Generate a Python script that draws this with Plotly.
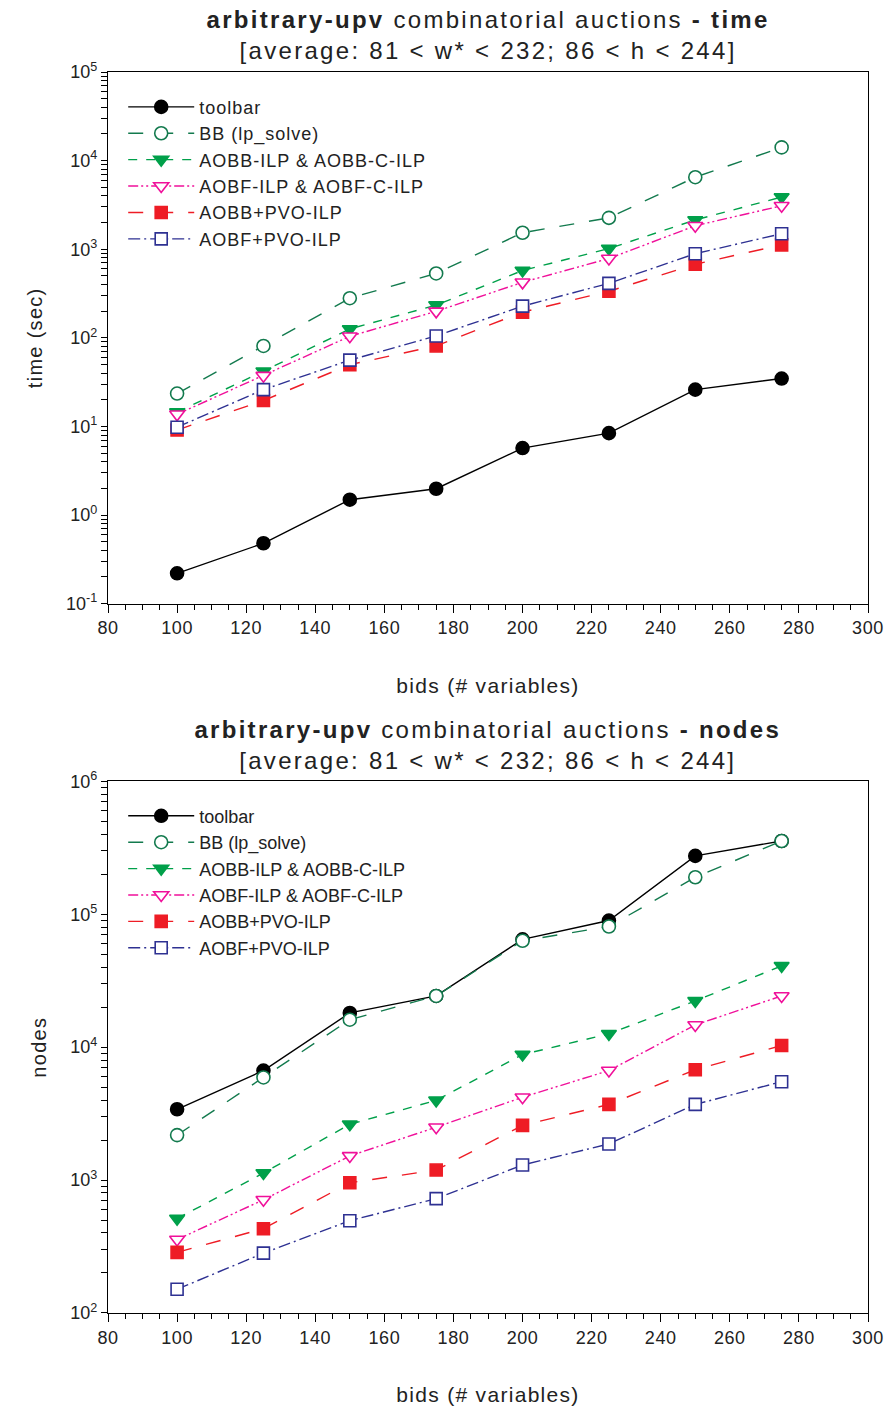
import plotly.graph_objects as go
from plotly.subplots import make_subplots

bids = [100, 125, 150, 175, 200, 225, 250, 275]

series_names = ["toolbar", "BB (lp_solve)", "AOBB-ILP & AOBB-C-ILP",
                "AOBF-ILP & AOBF-C-ILP", "AOBB+PVO-ILP", "AOBF+PVO-ILP"]

# time (sec)
time_toolbar = [0.22, 0.48, 1.49, 1.98, 5.7, 8.4, 26, 34.7]
time_bb = [23.5, 81, 280, 533, 1535, 2260, 6500, 14100]
time_aobb_ilp = [14.5, 42, 126, 234, 575, 1016, 2140, 3880]
time_aobf_ilp = [13.7, 37.4, 104, 199, 423, 785, 1840, 3090]
time_aobb_pvo = [9.1, 19.6, 49.8, 81, 195, 335, 676, 1120]
time_aobf_pvo = [9.8, 26, 56, 105, 228, 412, 890, 1497]

# nodes
nodes_toolbar = [3410, 6670, 18100, 24300, 64700, 89700, 275000, 356000]
nodes_bb = [2180, 5920, 16100, 24300, 63200, 80900, 190000, 356000]
nodes_aobb_ilp = [513, 1130, 2630, 3980, 8800, 12600, 22300, 40900]
nodes_aobf_ilp = [357, 711, 1520, 2500, 4200, 6670, 14700, 24300]
nodes_aobb_pvo = [286, 431, 955, 1190, 2580, 3710, 6760, 10300]
nodes_aobf_pvo = [151, 282, 495, 725, 1300, 1870, 3710, 5500]

x_ticks = [80, 100, 120, 140, 160, 180, 200, 220, 240, 260, 280, 300]
time_exponents = [-1, 0, 1, 2, 3, 4, 5]
nodes_exponents = [2, 3, 4, 5, 6]

styles = [
    dict(color="#000000", dash="solid", symbol="circle", fill=True, size=13),
    dict(color="#137a4e", dash="longdash", symbol="circle", fill=False, size=13),
    dict(color="#00a04a", dash="dash", symbol="triangle-down", fill=True, size=13),
    dict(color="#f0109a", dash="10px,3px,2px,3px,2px,3px", symbol="triangle-down", fill=False, size=13),
    dict(color="#ee1c25", dash="longdash", symbol="square", fill=True, size=12),
    dict(color="#2e3192", dash="12px,4px,2px,4px", symbol="square", fill=False, size=12),
]

time_data = [time_toolbar, time_bb, time_aobb_ilp, time_aobf_ilp, time_aobb_pvo, time_aobf_pvo]
nodes_data = [nodes_toolbar, nodes_bb, nodes_aobb_ilp, nodes_aobf_ilp, nodes_aobb_pvo, nodes_aobf_pvo]

FONT = "Liberation Sans, Arial, sans-serif"
TXT = "#222"

fig = make_subplots(rows=2, cols=1, vertical_spacing=0.1432)

for row, data, leg in [(1, time_data, "legend"), (2, nodes_data, "legend2")]:
    for name, vals, st in zip(series_names, data, styles):
        fig.add_trace(go.Scatter(
            x=bids, y=vals, name=name, mode="lines+markers",
            line=dict(color=st["color"], dash=st["dash"], width=1.4),
            marker=dict(symbol=st["symbol"], size=st["size"],
                        color=st["color"] if st["fill"] else "white",
                        line=dict(color=st["color"], width=1.6)),
            legend=leg, showlegend=True,
        ), row=row, col=1)


def log_ticks(exps):
    """Decade ticks labelled 10^e plus unlabelled 2..9 ticks in each decade."""
    vals, texts = [], []
    for i, e in enumerate(exps):
        vals.append(10.0 ** e)
        texts.append(f"10<sup>{e}</sup>")
        if i < len(exps) - 1:
            for m in range(2, 10):
                vals.append(m * 10.0 ** e)
                texts.append("")
    return vals, texts


xaxis_common = dict(
    range=[80, 300], tickvals=x_ticks, ticks="outside", ticklen=8, tickwidth=1,
    tickcolor="black", showline=True, linecolor="black", linewidth=1.3, mirror=True,
    showgrid=False, zeroline=False,
    minor=dict(dtick=5, ticks="outside", ticklen=5, tickcolor="black", showgrid=False),
    tickfont=dict(family=FONT, size=18, color=TXT),
    title=dict(text="bids (# variables)", font=dict(family=FONT, size=21, color=TXT), standoff=40),
)
fig.update_xaxes(**xaxis_common)

yaxis_common = dict(
    type="log", ticks="outside", ticklen=6, tickwidth=1, tickcolor="black",
    showline=True, linecolor="black", linewidth=1.3, mirror=True,
    showgrid=False, zeroline=False,
    tickfont=dict(family=FONT, size=18, color=TXT),
)
fig.update_yaxes(**yaxis_common)
tv1, tt1 = log_ticks(time_exponents)
tv2, tt2 = log_ticks(nodes_exponents)
fig.update_yaxes(range=[-1, 5], tickmode="array", tickvals=tv1, ticktext=tt1,
                 title=dict(text="time (sec)", font=dict(family=FONT, size=20, color=TXT), standoff=18),
                 row=1, col=1)
fig.update_yaxes(range=[2, 6], tickmode="array", tickvals=tv2, ticktext=tt2,
                 title=dict(text="nodes", font=dict(family=FONT, size=20, color=TXT), standoff=18),
                 row=2, col=1)

legend_common = dict(
    x=0.02, xanchor="left", bgcolor="rgba(0,0,0,0)",
    font=dict(family=FONT, size=18, color=TXT), tracegroupgap=0, itemwidth=66,
    yanchor="top",
)
fig.update_layout(
    legend=dict(**legend_common, y=0.9866),
    legend2=dict(**legend_common, y=0.4153),
)

fig.add_annotation(
    text="<b>arbitrary-upv</b> combinatorial auctions <b>- time</b><br>[average: 81 &lt; w* &lt; 232; 86 &lt; h &lt; 244]",
    xref="paper", yref="paper", x=0.5, y=1.0, yshift=6, xanchor="center", yanchor="bottom",
    showarrow=False, font=dict(family=FONT, size=24, color=TXT),
)
fig.add_annotation(
    text="<b>arbitrary-upv</b> combinatorial auctions <b>- nodes</b><br>[average: 81 &lt; w* &lt; 232; 86 &lt; h &lt; 244]",
    xref="paper", yref="paper", x=0.5, y=0.428, yshift=6, xanchor="center", yanchor="bottom",
    showarrow=False, font=dict(family=FONT, size=24, color=TXT),
)

fig.update_layout(
    width=895, height=1414,
    margin=dict(l=108, r=20, t=72, b=92),
    plot_bgcolor="white", paper_bgcolor="white",
)

# widen the letter spacing (tracking) of texts, as in the reference typesetting,
# then redraw so plotly measures the texts with it
post = """
var gd = document.getElementById('{plot_id}');
var s = document.createElement('style');
s.textContent = '.annotation-text{letter-spacing:2.3px}' +
  ' .legendtext{letter-spacing:1px}' +
  ' .xtitle,.x2title,.ytitle,.y2title{letter-spacing:1.3px}' +
  ' .xtick text,.x2tick text{letter-spacing:0.6px}';
document.head.appendChild(s);
function unclip() {
  gd.querySelectorAll('.infolayer .scrollbox, .infolayer g[class^=legend]').forEach(function(e){
    e.removeAttribute('clip-path');
  });
}
var p = Plotly.redraw(gd);
unclip();
if (p && p.then) { p.then(unclip); }
"""
fig.write_html("out.html", post_script=post)
